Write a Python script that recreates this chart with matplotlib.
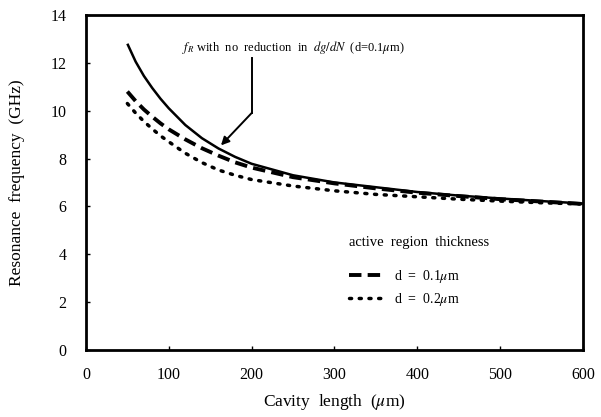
import matplotlib

matplotlib.use("Agg")

import matplotlib.pyplot as plt

# cavity length (um) and resonance frequency (GHz)
cavity_len = [50, 60, 70, 80, 90, 100, 120, 140, 160, 180, 200,
              250, 300, 350, 400, 450, 500, 550, 600]
f_no_reduction = [12.8, 12.05, 11.45, 10.95, 10.5, 10.1, 9.4, 8.85, 8.42, 8.07, 7.78,
                  7.3, 7.0, 6.8, 6.6, 6.45, 6.33, 6.22, 6.12]
f_d01 = [10.8, 10.4, 10.05, 9.75, 9.47, 9.22, 8.8, 8.43, 8.12, 7.84, 7.62,
         7.22, 6.96, 6.75, 6.57, 6.43, 6.3, 6.2, 6.1]
f_d02 = [10.3, 9.9, 9.55, 9.24, 8.95, 8.7, 8.22, 7.83, 7.52, 7.3, 7.12,
         6.85, 6.65, 6.5, 6.4, 6.3, 6.22, 6.15, 6.1]

x_ticks = [0, 100, 200, 300, 400, 500, 600]
y_ticks = [0, 2, 4, 6, 8, 10, 12, 14]

plt.rcParams["font.family"] = ["Liberation Serif", "DejaVu Serif"]
plt.rcParams["mathtext.fontset"] = "stix"

fig = plt.figure(figsize=(6.01, 4.17), dpi=100)
ax = fig.add_axes([0.143, 0.161, 0.827, 0.803])

ax.plot(cavity_len, f_no_reduction, color="black", lw=1.8, solid_capstyle="butt")
ax.plot(cavity_len, f_d01, color="black", lw=2.8, ls=(0, (3.2, 1.6)),
        label="d  =  0.1$\\mu$m")
ax.plot(cavity_len, f_d02, color="black", lw=2.5, ls=(0, (0.6, 2.2)),
        dash_capstyle="round", label="d  =  0.2$\\mu$m")

ax.set_xlim(0, 600)
ax.set_ylim(0, 14)
ax.set_xticks(x_ticks)
ax.set_yticks(y_ticks)
ax.tick_params(direction="in", length=3, width=1, labelsize=11.5)
ax.tick_params(axis="x", pad=12)
ax.tick_params(axis="y", pad=14)
for sp in ax.spines.values():
    sp.set_linewidth(2.0)

ax.set_xlabel("Cavity  length  ($\\mu$m)", fontsize=12.5, labelpad=7)
ax.set_ylabel("Resonance  frequency  (GHz)", fontsize=12.5, labelpad=18)

# annotation with bent arrow
ax.text(250, 12.3, "$f_R$ with  no  reduction  in  $dg/dN$  (d=0.1$\\mu$m)",
        fontsize=9, ha="center", va="bottom")
ax.plot([200, 200], [12.2, 9.9], color="black", lw=1.4)
ax.annotate("", xy=(163, 8.55), xytext=(200, 9.9),
            arrowprops=dict(arrowstyle="-|>", color="black", lw=1.4,
                            mutation_scale=12, shrinkA=0, shrinkB=0))

leg = ax.legend(loc="lower left", bbox_to_anchor=(0.51, 0.095), frameon=False,
                fontsize=10, handlelength=2.4, handletextpad=0.8,
                labelspacing=0.45, title="active  region  thickness",
                title_fontsize=10.5, borderpad=0.2)
leg._legend_box.align = "left"
leg._legend_box.sep = 14

fig.savefig("out.png", dpi=100)
